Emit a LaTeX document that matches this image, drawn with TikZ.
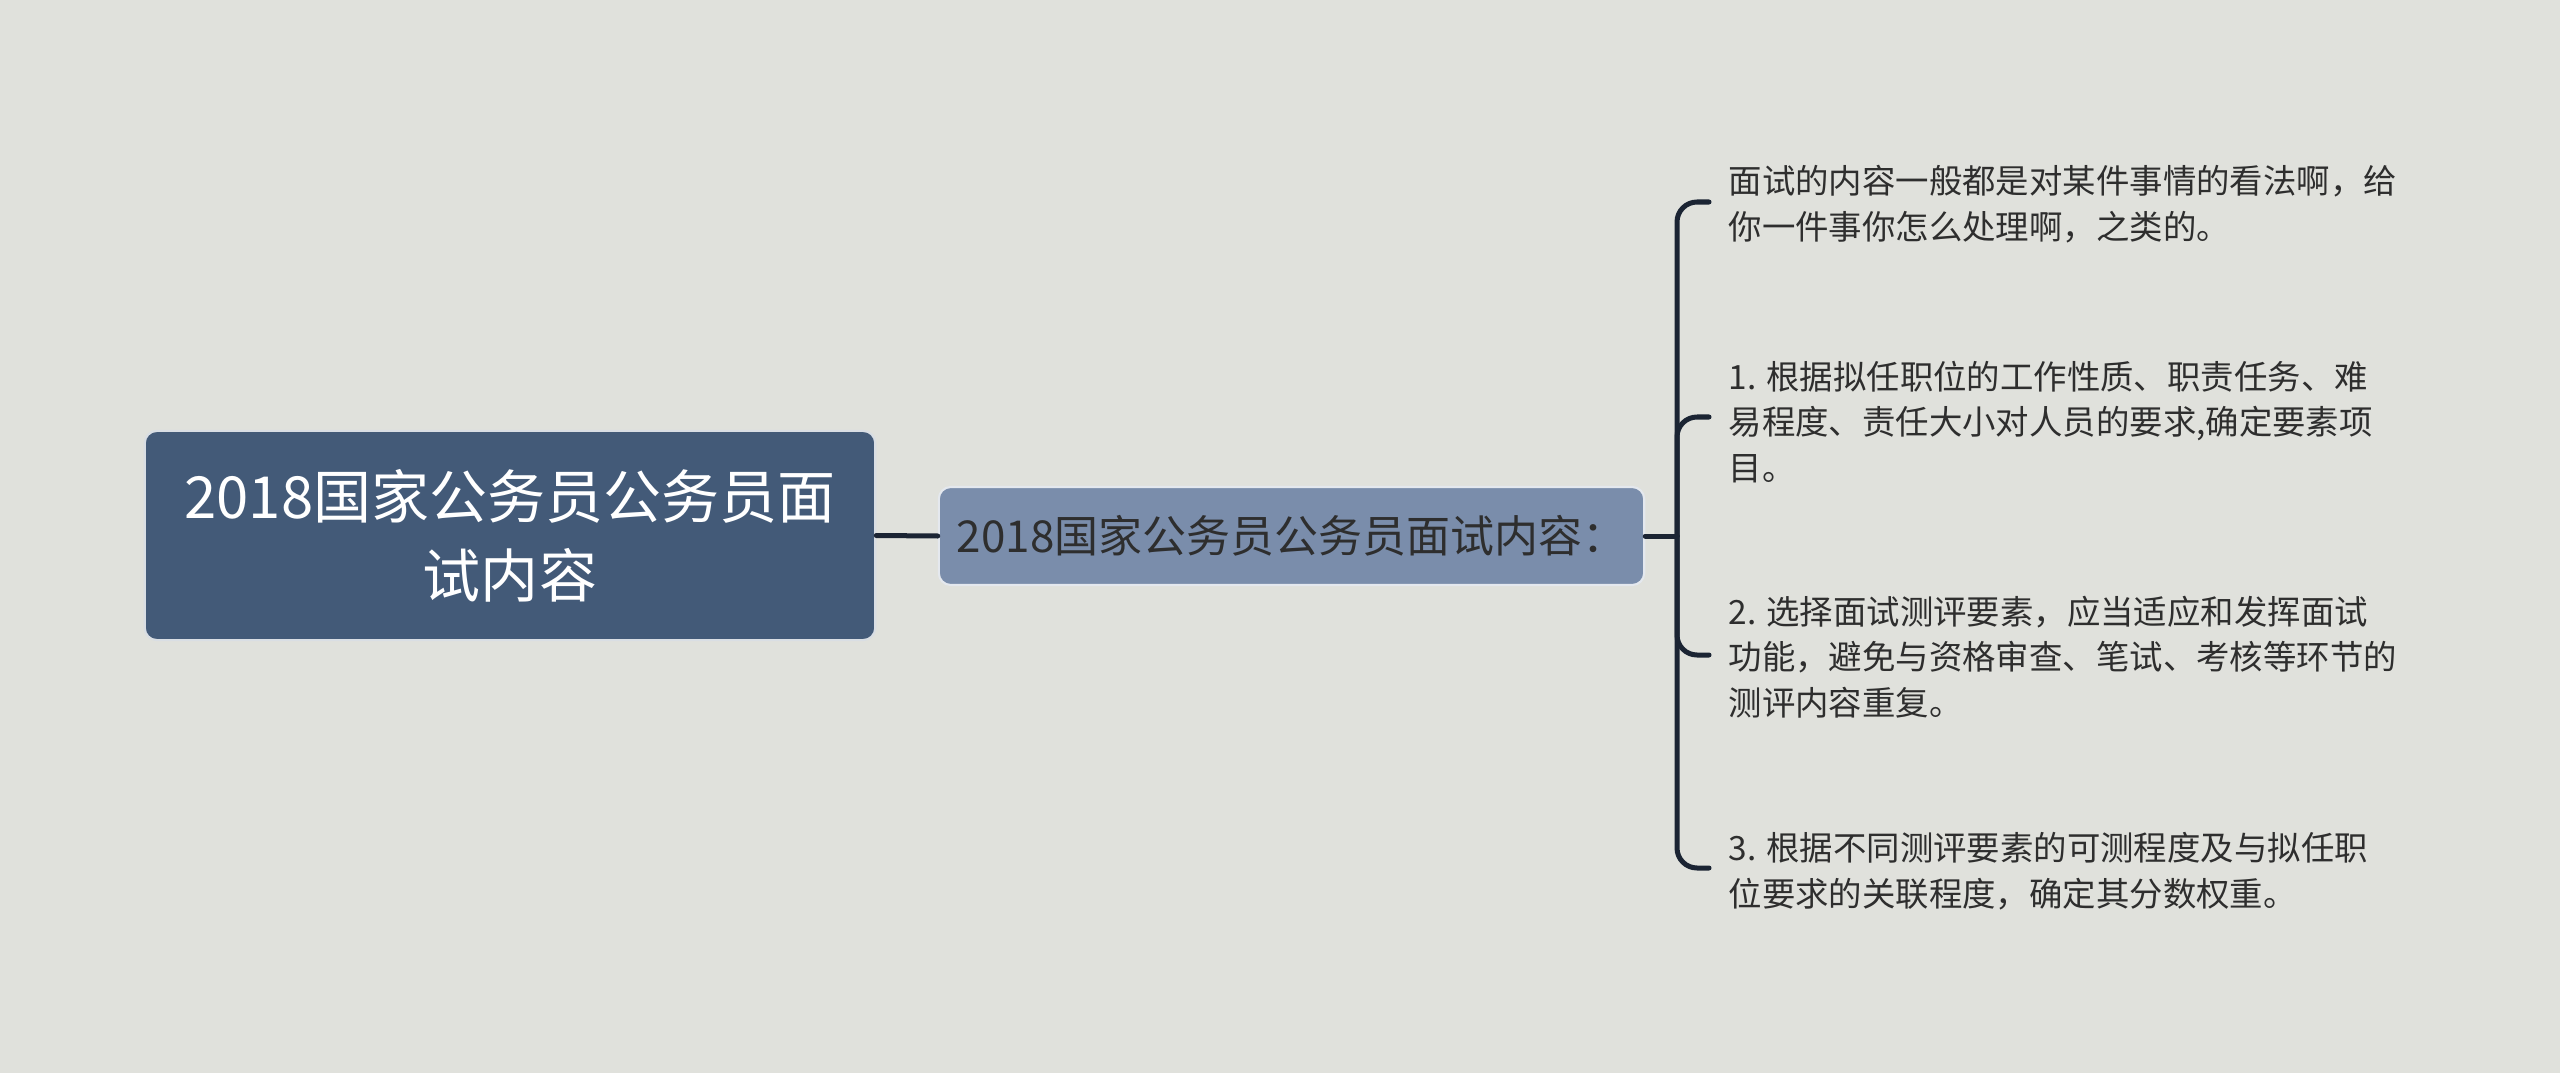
\documentclass[tikz,border=0pt]{standalone}
\usepackage{fontspec}
\setmainfont{Noto Sans CJK SC}
\definecolor{bgpaper}{HTML}{E0E1DC}
\definecolor{rootfill}{HTML}{435A78}
\definecolor{subfill}{HTML}{7A8DAB}
\definecolor{linkcol}{HTML}{1B2433}
\definecolor{txtdark}{HTML}{2E2E2E}
\tikzset{
	rootbox/.style={draw=white!80!rootfill,line width=0.6pt,fill=rootfill,rounded corners=0.12cm,
		minimum width=7.3cm,minimum height=2.09cm,text=white,align=center,
		font=\fontsize{16.5pt}{22.5pt}\selectfont},
	subbox/.style={draw=white!80!subfill,line width=0.6pt,fill=subfill,rounded corners=0.12cm,
		minimum width=7.05cm,minimum height=0.98cm,text=txtdark,
		font=\fontsize{12.5pt}{15pt}\selectfont},
	leaftext/.style={anchor=west,inner sep=0pt,align=left,text=txtdark,
		font=\fontsize{9.5pt}{13pt}\selectfont},
	branch/.style={draw=linkcol,line width=0.05cm,rounded corners=0.2cm}
}
\begin{document}
\begin{tikzpicture}[x=0.01cm,y=-0.01cm,line cap=round,line join=round]
	\fill[bgpaper] (0,0) rectangle (2560,1073);
	\useasboundingbox (0,0) rectangle (2560,1073);
	% main topic and its one subtopic
	\node[rootbox] (root) at (510,535.5) {2018国家公务员公务员面\\试内容};
	\node[subbox] (sub) at (1291.5,536) {2018国家公务员公务员面试内容：};
	\draw[branch] (root.east) -- (sub.west);
	\coordinate (fork) at (1677,536);
	\draw[branch] (sub.east) -- (fork);
	% leaves
	\node[leaftext] (leafa) at (1728,204) {面试的内容一般都是对某件事情的看法啊，给\\你一件事你怎么处理啊，之类的。};
	\node[leaftext] (leafb) at (1728,422) {1. 根据拟任职位的工作性质、职责任务、难\\易程度、责任大小对人员的要求,确定要素项\\目。};
	\node[leaftext] (leafc) at (1728,657) {2. 选择面试测评要素，应当适应和发挥面试\\功能，避免与资格审查、笔试、考核等环节的\\测评内容重复。};
	\node[leaftext] (leafd) at (1728,871) {3. 根据不同测评要素的可测程度及与拟任职\\位要求的关联程度，确定其分数权重。};
	\foreach \leaf/\yy in {leafa/202,leafb/417,leafc/655,leafd/868}
		\draw[branch] (fork) -- (1677,\yy) -- (1709,\yy);
\end{tikzpicture}
\end{document}
